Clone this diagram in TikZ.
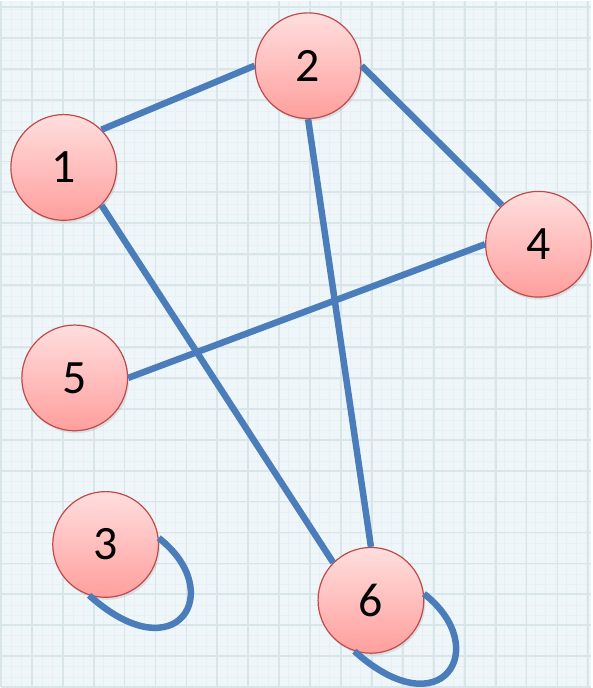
\documentclass[tikz,border=0pt]{standalone}
\usepackage{fontspec}
\setmainfont{Carlito}
\usetikzlibrary{shadows}
\definecolor{paper-bg}{HTML}{EEF6F9}
\definecolor{grid-line}{HTML}{D8E5E9}
\definecolor{grid-fine}{HTML}{E8F0F3}
\definecolor{vertex-top}{HTML}{FFDEDE}
\definecolor{vertex-bottom}{HTML}{FF9F9D}
\definecolor{vertex-rim}{HTML}{BE4B48}
\definecolor{link-blue}{HTML}{4A7DBA}

\begin{document}
\begin{tikzpicture}[x=1pt, y=1pt,
  every node/.style={font=\fontsize{48}{52}\selectfont},
  vertex/.style={circle, draw=vertex-rim, line width=1.2pt, minimum size=106pt,
    inner sep=0pt, top color=vertex-top, bottom color=vertex-bottom,
    drop shadow={opacity=0.18, shadow xshift=1.5pt, shadow yshift=-2.5pt}},
  link/.style={draw=link-blue, line width=6.5pt}]
  % graph paper
  \fill[paper-bg] (0,0) rectangle (592,688);
  \draw[grid-fine, line width=0.6pt] (0,0) grid[step=10.3pt] (592,688);
  \draw[grid-line, line width=1.8pt] (0,0) grid[step=31pt] (592,688);
  \useasboundingbox (0,0) rectangle (592,688);
  \foreach \i/\x/\y in {1/63/521, 2/308/623, 4/539/444, 5/74/310, 3/105/143, 6/371/87} {
    \node[vertex] (v\i) at (\x,\y) {\i};
  }
  \foreach \a/\b in {v1.45/v2.180, v2.east/v4.133, v2.south/v6.north, v1.-45/v6.135, v5.east/v4.west} {
    \draw[link] (\a) -- (\b);
  }
  % self loops
  \foreach \i in {3,6} {
    \draw[link] (v\i.7) to[out=-38, in=-42, out distance=88pt, in distance=118pt] (v\i.-108);
  }
\end{tikzpicture}
\end{document}
